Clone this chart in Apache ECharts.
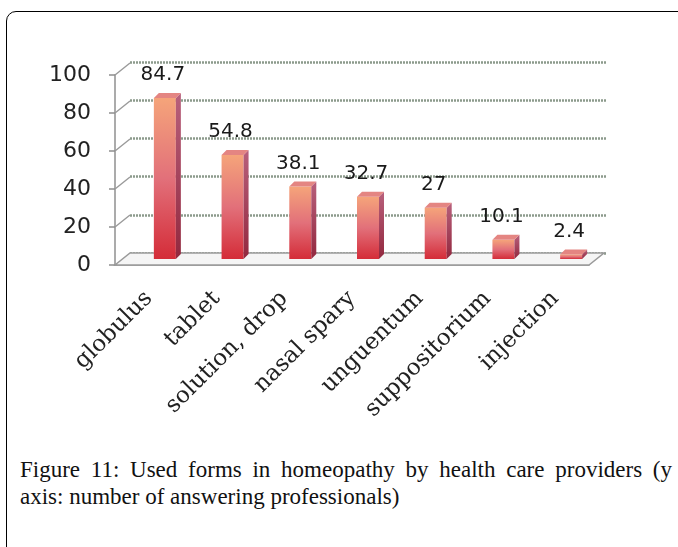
<!DOCTYPE html>
<html>
<head>
<meta charset="utf-8">
<script src="https://cdn.jsdelivr.net/npm/echarts@6/dist/echarts.min.js"></script>
<style>
  html, body { margin: 0; padding: 0; background: #fff; overflow: hidden; }
  #frame {
    position: absolute; left: 6px; top: 11px; width: 690px; height: 600px;
    border: 1px solid #000; border-radius: 10px;
  }
  #chart { position: absolute; left: 0; top: 0; width: 678px; height: 440px; }
  .cap {
    position: absolute; left: 20px; width: 652px; white-space: nowrap;
    font-family: "Liberation Serif", serif; font-size: 23px; line-height: 27px; color: #111;
  }
  #cap1 { top: 456px; text-align: justify; text-align-last: justify; }
  #cap2 { top: 483px; text-align: left; }
</style>
</head>
<body>
<div id="frame"></div>
<div id="chart"></div>
<div class="cap" id="cap1">Figure 11: Used forms in homeopathy by health care providers (y</div>
<div class="cap" id="cap2">axis: number of answering professionals)</div>
<script>
var categories = ["globulus", "tablet", "solution, drop", "nasal spary", "unguentum", "suppositorium", "injection"];
var values = [84.7, 54.8, 38.1, 32.7, 27, 10.1, 2.4];
var yTicks = [0, 20, 40, 60, 80, 100];

// fake 3d depth of the walls
var DX = 15, DY = 12;

var axisGray = "#8f8f8f";

function renderWall(params, api) {
  var band = api.size([1, 0])[0];
  var p = api.coord([0, api.value(1)]);
  var x0 = p[0] - band / 2;
  if (api.value(1) === 0) {
    // floor
    var x1 = x0 + band * categories.length;
    return {
      type: "polygon",
      shape: { points: [[x0, p[1]], [x1, p[1]], [x1 + DX, p[1] - DY], [x0 + DX, p[1] - DY]] },
      style: { fill: "#f5f5f5", stroke: "#9a9a9a", lineWidth: 1.5 }
    };
  }
  return {
    type: "line",
    shape: { x1: x0, y1: p[1], x2: x0 + DX, y2: p[1] - DY },
    style: { stroke: "#9a9a9a", lineWidth: 1.5 }
  };
}

function renderBar(params, api) {
  var base = api.coord([api.value(0), 0]);
  var top = api.coord([api.value(0), api.value(1)]);
  var w = 22, sd = 5, td = 5; // face width, side depth, top depth
  var x0 = base[0] + 5, x1 = x0 + w;
  var yb = base[1] - 6, yt = top[1] - 6;
  return {
    type: "group",
    children: [
      {
        type: "rect",
        shape: { x: x0, y: yt, width: w, height: yb - yt },
        style: {
          fill: {
            type: "linear", x: 0, y: 0, x2: 0, y2: 1,
            colorStops: [
              { offset: 0, color: "#f5a47a" },
              { offset: 0.5, color: "#e2707a" },
              { offset: 1, color: "#d42c38" }
            ]
          }
        }
      },
      {
        type: "polygon",
        shape: { points: [[x1, yt], [x1 + sd, yt - td], [x1 + sd, yb - td], [x1, yb]] },
        style: {
          fill: {
            type: "linear", x: 0, y: 0, x2: 0, y2: 1,
            colorStops: [
              { offset: 0, color: "#b8607c" },
              { offset: 1, color: "#92283e" }
            ]
          }
        }
      },
      {
        type: "polygon",
        shape: { points: [[x0, yt], [x1, yt], [x1 + sd, yt - td], [x0 + sd, yt - td]] },
        style: { fill: "#e48582" }
      },
      {
        type: "text",
        style: {
          text: String(api.value(1)),
          x: x0 + w / 2 - 2, y: yt - td - 8,
          align: "center", verticalAlign: "bottom",
          fontFamily: "DejaVu Sans", fontSize: 20, fill: "#1a1a1a"
        }
      }
    ]
  };
}

var chart = echarts.init(document.getElementById("chart"));
chart.setOption({
  animation: false,
  grid: [
    { left: 130, top: 62, width: 476, height: 191 }, // back wall
    { left: 115, top: 75, width: 474, height: 190 }  // front plane
  ],
  xAxis: [
    { gridIndex: 0, type: "category", data: categories, show: false },
    {
      gridIndex: 1, type: "category", data: categories,
      axisLine: { lineStyle: { color: axisGray, width: 1.5 } },
      axisTick: { length: 8, lineStyle: { color: axisGray, width: 1.5 } },
      axisLabel: {
        rotate: 45, interval: 0, margin: 30,
        fontFamily: "DejaVu Serif", fontSize: 23, color: "#222"
      }
    }
  ],
  yAxis: [
    {
      gridIndex: 0, type: "value", min: 0, max: 100, interval: 20,
      axisLabel: { show: false }, axisLine: { show: false }, axisTick: { show: false },
      splitLine: { lineStyle: { color: "#8c9a8c", width: 2.5, type: [2, 1] } }
    },
    {
      gridIndex: 1, type: "value", min: 0, max: 100, interval: 20,
      splitLine: { show: false },
      axisLine: { show: true, lineStyle: { color: axisGray, width: 1.5 } },
      axisTick: { show: true, length: 6, lineStyle: { color: axisGray, width: 1.5 } },
      axisLabel: { margin: 24, fontFamily: "DejaVu Sans", fontSize: 22, color: "#222" }
    }
  ],
  series: [
    {
      type: "custom", xAxisIndex: 1, yAxisIndex: 1,
      data: yTicks.map(function (v) { return [0, v]; }),
      renderItem: renderWall, silent: true, z: 1
    },
    {
      type: "custom", xAxisIndex: 1, yAxisIndex: 1,
      data: values.map(function (v, i) { return [i, v]; }),
      renderItem: renderBar, z: 3
    }
  ]
});
</script>
</body>
</html>
